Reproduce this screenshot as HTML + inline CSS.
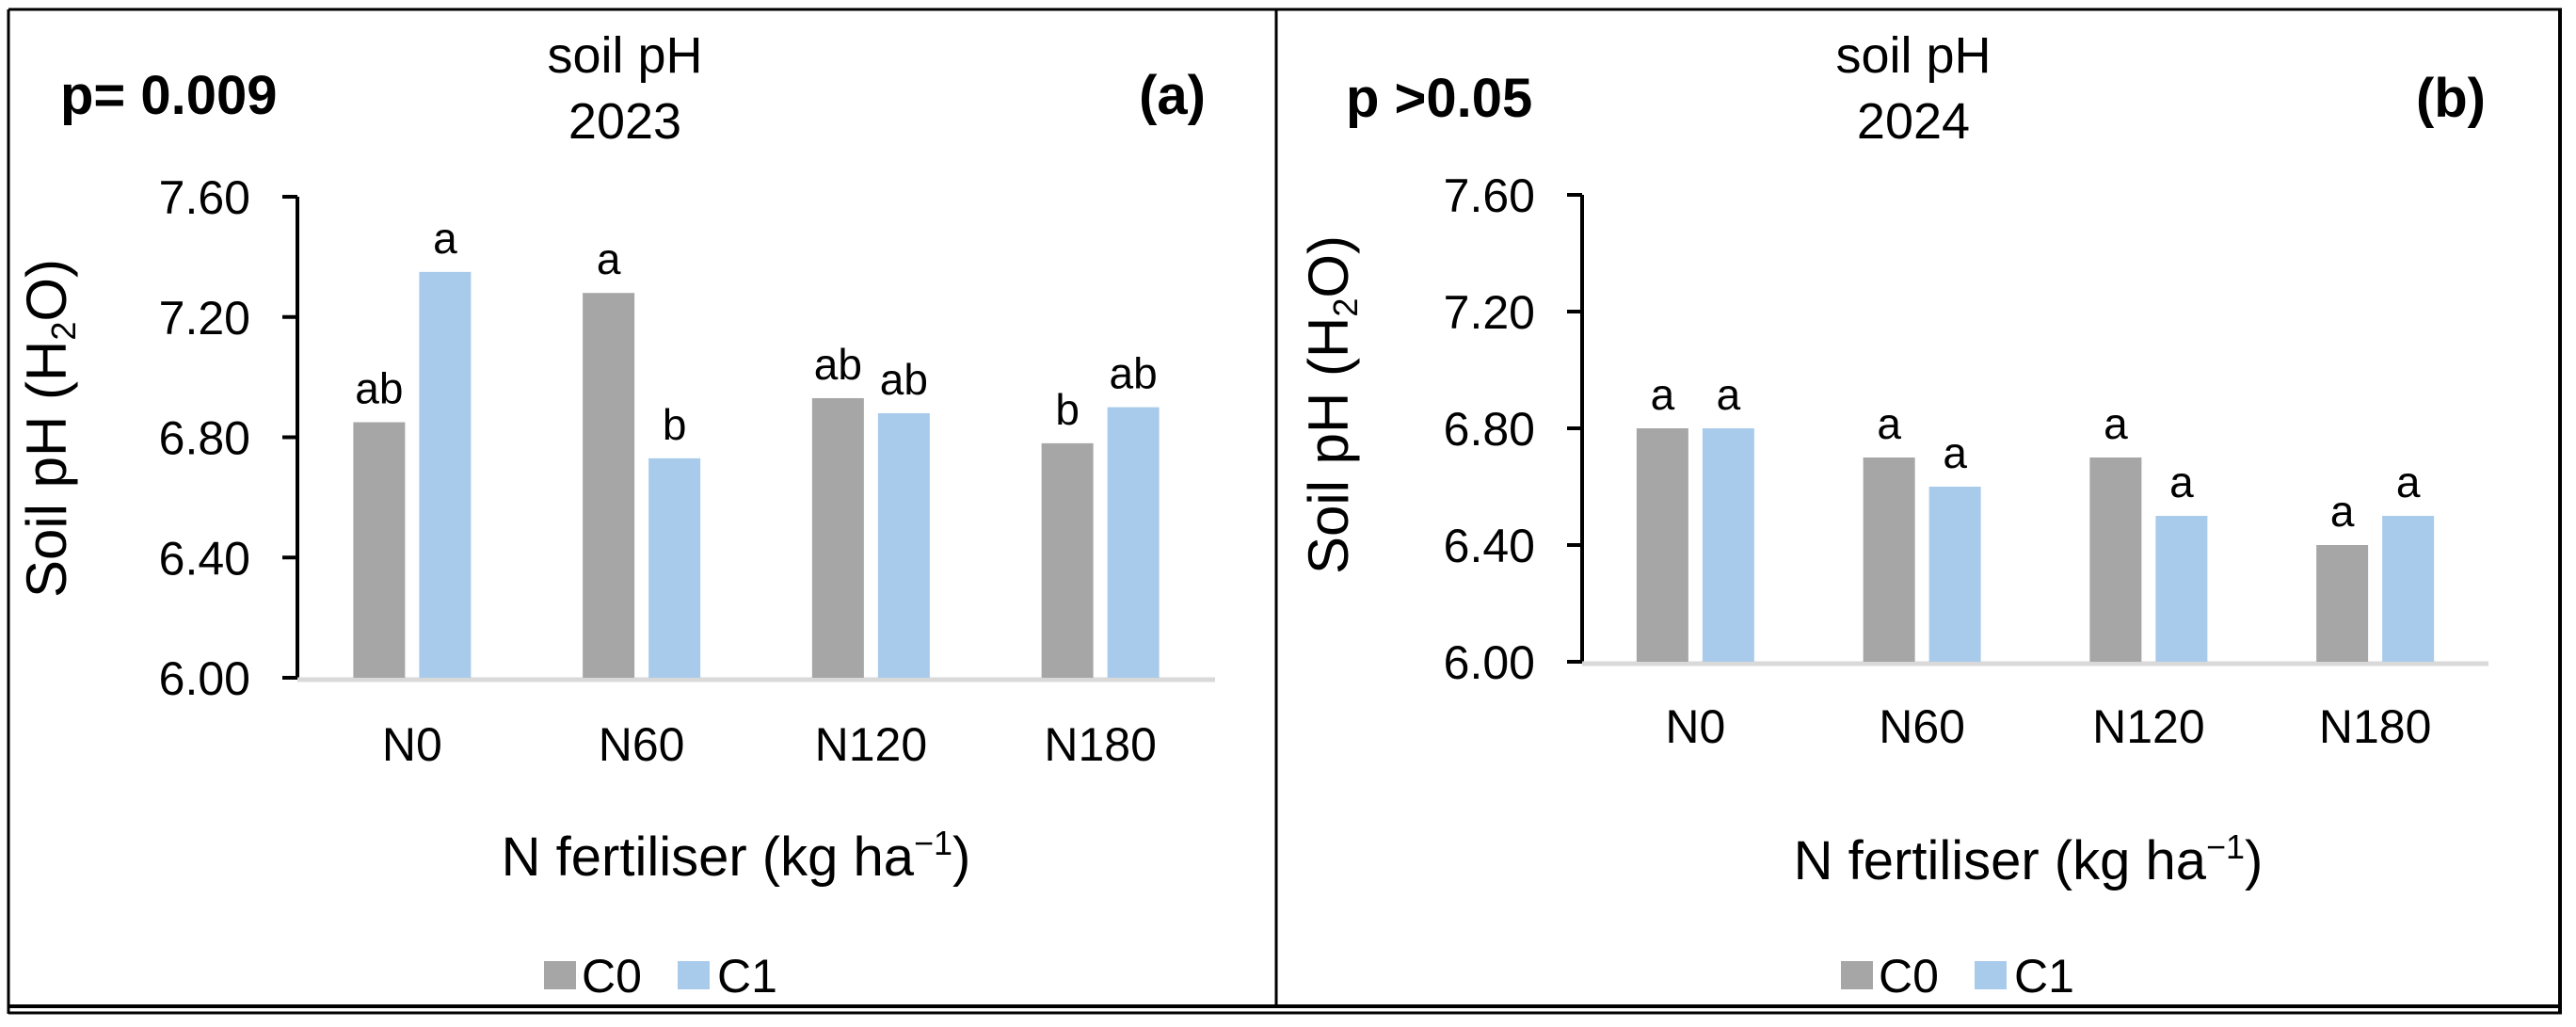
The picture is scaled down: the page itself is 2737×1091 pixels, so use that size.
<!DOCTYPE html>
<html><head><meta charset="utf-8"><style>
html,body{margin:0;padding:0;background:#fff}
svg{display:block;font-family:"Liberation Sans",Arial,sans-serif}
</style></head><body>
<svg id="chart" width="2737" height="1091" viewBox="0 0 2737 1091" xmlns="http://www.w3.org/2000/svg">
  <g>
    <rect x="0" y="0" width="2737" height="1091" fill="#fff"/>
    <line x1="9" y1="10" x2="2722" y2="10" stroke="#000" stroke-width="3"/>
    <line x1="9" y1="10" x2="9" y2="1077" stroke="#000" stroke-width="3"/>
    <line x1="2720" y1="10" x2="2720" y2="1077" stroke="#000" stroke-width="4"/>
    <line x1="1356" y1="10" x2="1356" y2="1069" stroke="#000" stroke-width="3"/>
    <line x1="9" y1="1069" x2="2722" y2="1069" stroke="#000" stroke-width="4"/>
    <line x1="9" y1="1076" x2="2722" y2="1076" stroke="#000" stroke-width="3"/>
  </g>
  <g id="panelA"></g>
  <g id="panelB"></g>
</svg>
<script>
const categories = ["N0", "N60", "N120", "N180"];
const yTicks = [6.0, 6.4, 6.8, 7.2, 7.6];
const yTickLabels = ["6.00", "6.40", "6.80", "7.20", "7.60"];
const c0Values2023 = [6.85, 7.28, 6.93, 6.78];
const c1Values2023 = [7.35, 6.73, 6.88, 6.90];
const c0Letters2023 = ["ab", "a", "ab", "b"];
const c1Letters2023 = ["a", "b", "ab", "ab"];
const c0Values2024 = [6.80, 6.70, 6.70, 6.40];
const c1Values2024 = [6.80, 6.60, 6.50, 6.50];
const c0Letters2024 = ["a", "a", "a", "a"];
const c1Letters2024 = ["a", "a", "a", "a"];

const NS = "http://www.w3.org/2000/svg";
function mk(tag, attrs, parent, text) {
  const e = document.createElementNS(NS, tag);
  for (const k in attrs) e.setAttribute(k, attrs[k]);
  if (text !== undefined) e.textContent = text;
  parent.appendChild(e);
  return e;
}

function drawPanel(g, cfg) {
  const yMin = 6.0, yMax = 7.6;
  const yScale = v => cfg.y0 - (v - yMin) / (yMax - yMin) * (cfg.y0 - cfg.yTop);
  const catW = (cfg.xEnd - cfg.x0) / categories.length;
  const xCenter = i => cfg.x0 + catW * (i + 0.5);
  const barW = 55, gap = 15;

  let t = mk("text", {x: cfg.titleX, y: 77, "font-size": 54, "text-anchor": "middle"}, g, "soil pH");
  
  
  t = mk("text", {x: cfg.titleX, y: 147, "font-size": 54, "text-anchor": "middle"}, g, cfg.year);
  
  
  t = mk("text", {x: cfg.pX, y: cfg.pY, "font-size": 58, "font-weight": "bold"}, g, cfg.pText);
  
  
  t = mk("text", {x: cfg.tagX, y: cfg.pY, "font-size": 58, "font-weight": "bold", "text-anchor": "end"}, g, cfg.tag);
  
  

  const ax = mk("g", {}, g);
  
  
  mk("line", {x1: cfg.x0, y1: cfg.yTop, x2: cfg.x0, y2: cfg.y0, stroke: "#000", "stroke-width": 4}, ax);
  yTicks.forEach((v, i) => {
    const y = yScale(v);
    mk("line", {x1: cfg.x0 - 16, y1: y, x2: cfg.x0, y2: y, stroke: "#000", "stroke-width": 4}, ax);
    const lb = mk("text", {x: cfg.x0 - 50, y: y + 18, "font-size": 50, "text-anchor": "end"}, ax, yTickLabels[i]);
    
    
  });
  const xl = mk("line", {x1: cfg.x0, y1: cfg.y0 + 2, x2: cfg.xEnd, y2: cfg.y0 + 2, stroke: "#d9d9d9", "stroke-width": 5}, g);
  
  

  const yt = mk("text", {transform: `translate(${cfg.yTitleX},${cfg.yTitleY}) rotate(-90)`, "font-size": 60, "text-anchor": "middle"}, g);
  
  
  yt.innerHTML = 'Soil pH (H<tspan font-size="36" dy="10">2</tspan><tspan dy="-10">O)</tspan>';

  categories.forEach((c, i) => {
    const xc = xCenter(i);
    const series = [[cfg.c0[i], "#a6a6a6", xc - gap / 2 - barW, cfg.l0[i], "c0"], [cfg.c1[i], "#a9cbeb", xc + gap / 2, cfg.l1[i], "c1"]];
    series.forEach(s => {
      const yv = yScale(s[0]);
      const r = mk("rect", {x: s[2], y: yv, width: barW, height: cfg.y0 - yv, fill: s[1]}, g);
      
      
      const lt = mk("text", {x: s[2] + barW / 2, y: yv - 20, "font-size": 46, "text-anchor": "middle"}, g, s[3]);
      
      
    });
    const cl = mk("text", {x: xc, y: cfg.catY, "font-size": 50, "text-anchor": "middle"}, g, c);
    
    
  });

  const xt = mk("text", {x: cfg.xTitleX, y: cfg.xTitleY, "font-size": 58, "text-anchor": "middle"}, g);
  
  
  xt.innerHTML = 'N fertiliser (kg ha<tspan font-size="36" dy="-22">−1</tspan><tspan dy="22">)</tspan>';

  const lg = mk("g", {}, g);
  
  
  const e0 = mk("rect", {x: cfg.legX, y: 1021, width: 34, height: 30, fill: "#a6a6a6"}, lg);
  
  
  const t0 = mk("text", {x: cfg.legX + 40, y: 1054, "font-size": 50}, lg, "C0");
  
  
  const e1 = mk("rect", {x: cfg.legX + 142, y: 1021, width: 34, height: 30, fill: "#a9cbeb"}, lg);
  
  
  const t1 = mk("text", {x: cfg.legX + 184, y: 1054, "font-size": 50}, lg, "C1");
  
  
}

drawPanel(document.getElementById("panelA"), {
  x0: 316, xEnd: 1291, yTop: 209, y0: 720,
  c0: c0Values2023, c1: c1Values2023, l0: c0Letters2023, l1: c1Letters2023,
  year: "2023", titleX: 664, pText: "p= 0.009", pX: 64, pY: 121, tag: "(a)", tagX: 1281,
  yTitleX: 70, yTitleY: 455, catY: 808, xTitleX: 782, xTitleY: 930, legX: 578
});
drawPanel(document.getElementById("panelB"), {
  x0: 1681, xEnd: 2644, yTop: 207, y0: 703,
  c0: c0Values2024, c1: c1Values2024, l0: c0Letters2024, l1: c1Letters2024,
  year: "2024", titleX: 2033, pText: "p >0.05", pX: 1430, pY: 124, tag: "(b)", tagX: 2641,
  yTitleX: 1432, yTitleY: 430, catY: 789, xTitleX: 2155, xTitleY: 934, legX: 1956
});
</script>
</body></html>
